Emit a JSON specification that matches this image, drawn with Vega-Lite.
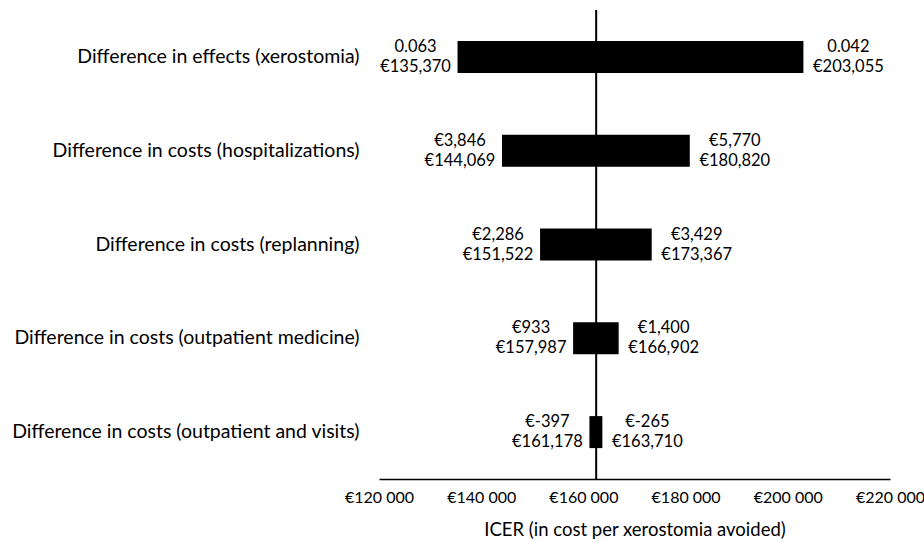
{
  "$schema": "https://vega.github.io/schema/vega-lite/v6.json",
  "width": 511,
  "height": 469,
  "autosize": {"type": "none"},
  "padding": {"left": 379, "top": 10, "right": 34, "bottom": 64},
  "background": "white",
  "config": {"view": {"stroke": null}, "font": "Lato"},
  "data": {
    "values": [
      {"param": "Difference in effects (xerostomia)", "low": 135370, "high": 203055, "lowLab": "0.063\n€135,370", "highLab": "0.042\n€203,055"},
      {"param": "Difference in costs (hospitalizations)", "low": 144069, "high": 180820, "lowLab": "€3,846\n€144,069", "highLab": "€5,770\n€180,820"},
      {"param": "Difference in costs (replanning)", "low": 151522, "high": 173367, "lowLab": "€2,286\n€151,522", "highLab": "€3,429\n€173,367"},
      {"param": "Difference in costs (outpatient medicine)", "low": 157987, "high": 166902, "lowLab": "€933\n€157,987", "highLab": "€1,400\n€166,902"},
      {"param": "Difference in costs (outpatient and visits)", "low": 161178, "high": 163710, "lowLab": "€-397\n€161,178", "highLab": "€-265\n€163,710"}
    ]
  },
  "encoding": {
    "y": {
      "field": "param", "type": "nominal", "sort": null,
      "scale": {"paddingInner": 0, "paddingOuter": 0},
      "axis": {"title": null, "domain": false, "ticks": false, "tickSize": 0, "labelFontSize": 19.5, "labelColor": "black", "labelPadding": 20, "labelLimit": 400}
    }
  },
  "layer": [
    {
      "data": {"values": [{"base": 162500}]},
      "mark": {"type": "rule", "color": "black", "strokeWidth": 2},
      "encoding": {"y": null, "x": {"field": "base", "type": "quantitative"}}
    },
    {
      "mark": {"type": "bar", "color": "black", "height": 32},
      "encoding": {
        "x": {
          "field": "low", "type": "quantitative",
          "scale": {"domain": [120000, 220000], "nice": false, "zero": false},
          "axis": {
            "title": "ICER (in cost per xerostomia avoided)",
            "titleFontSize": 18.5, "titleFontWeight": "normal", "titleColor": "black", "titlePadding": 15,
            "values": [120000, 140000, 160000, 180000, 200000, 220000],
            "labelExpr": "'€' + format(datum.value/1000, 'd') + ' 000'",
            "labelFontSize": 16, "labelColor": "black", "labelPadding": 10,
            "labelFlush": false, "labelOverlap": false, "labelBound": false,
            "ticks": false, "tickSize": 0, "grid": false,
            "domainColor": "black", "domainWidth": 1.5
          }
        },
        "x2": {"field": "high"}
      }
    },
    {
      "mark": {"type": "text", "align": "center", "baseline": "middle", "dx": -42, "dy": -10, "lineBreak": "\n", "lineHeight": 20, "fontSize": 16.5, "color": "black"},
      "encoding": {"x": {"field": "low", "type": "quantitative"}, "text": {"field": "lowLab"}}
    },
    {
      "mark": {"type": "text", "align": "center", "baseline": "middle", "dx": 45, "dy": -10, "lineBreak": "\n", "lineHeight": 20, "fontSize": 16.5, "color": "black"},
      "encoding": {"x": {"field": "high", "type": "quantitative"}, "text": {"field": "highLab"}}
    }
  ]
}
